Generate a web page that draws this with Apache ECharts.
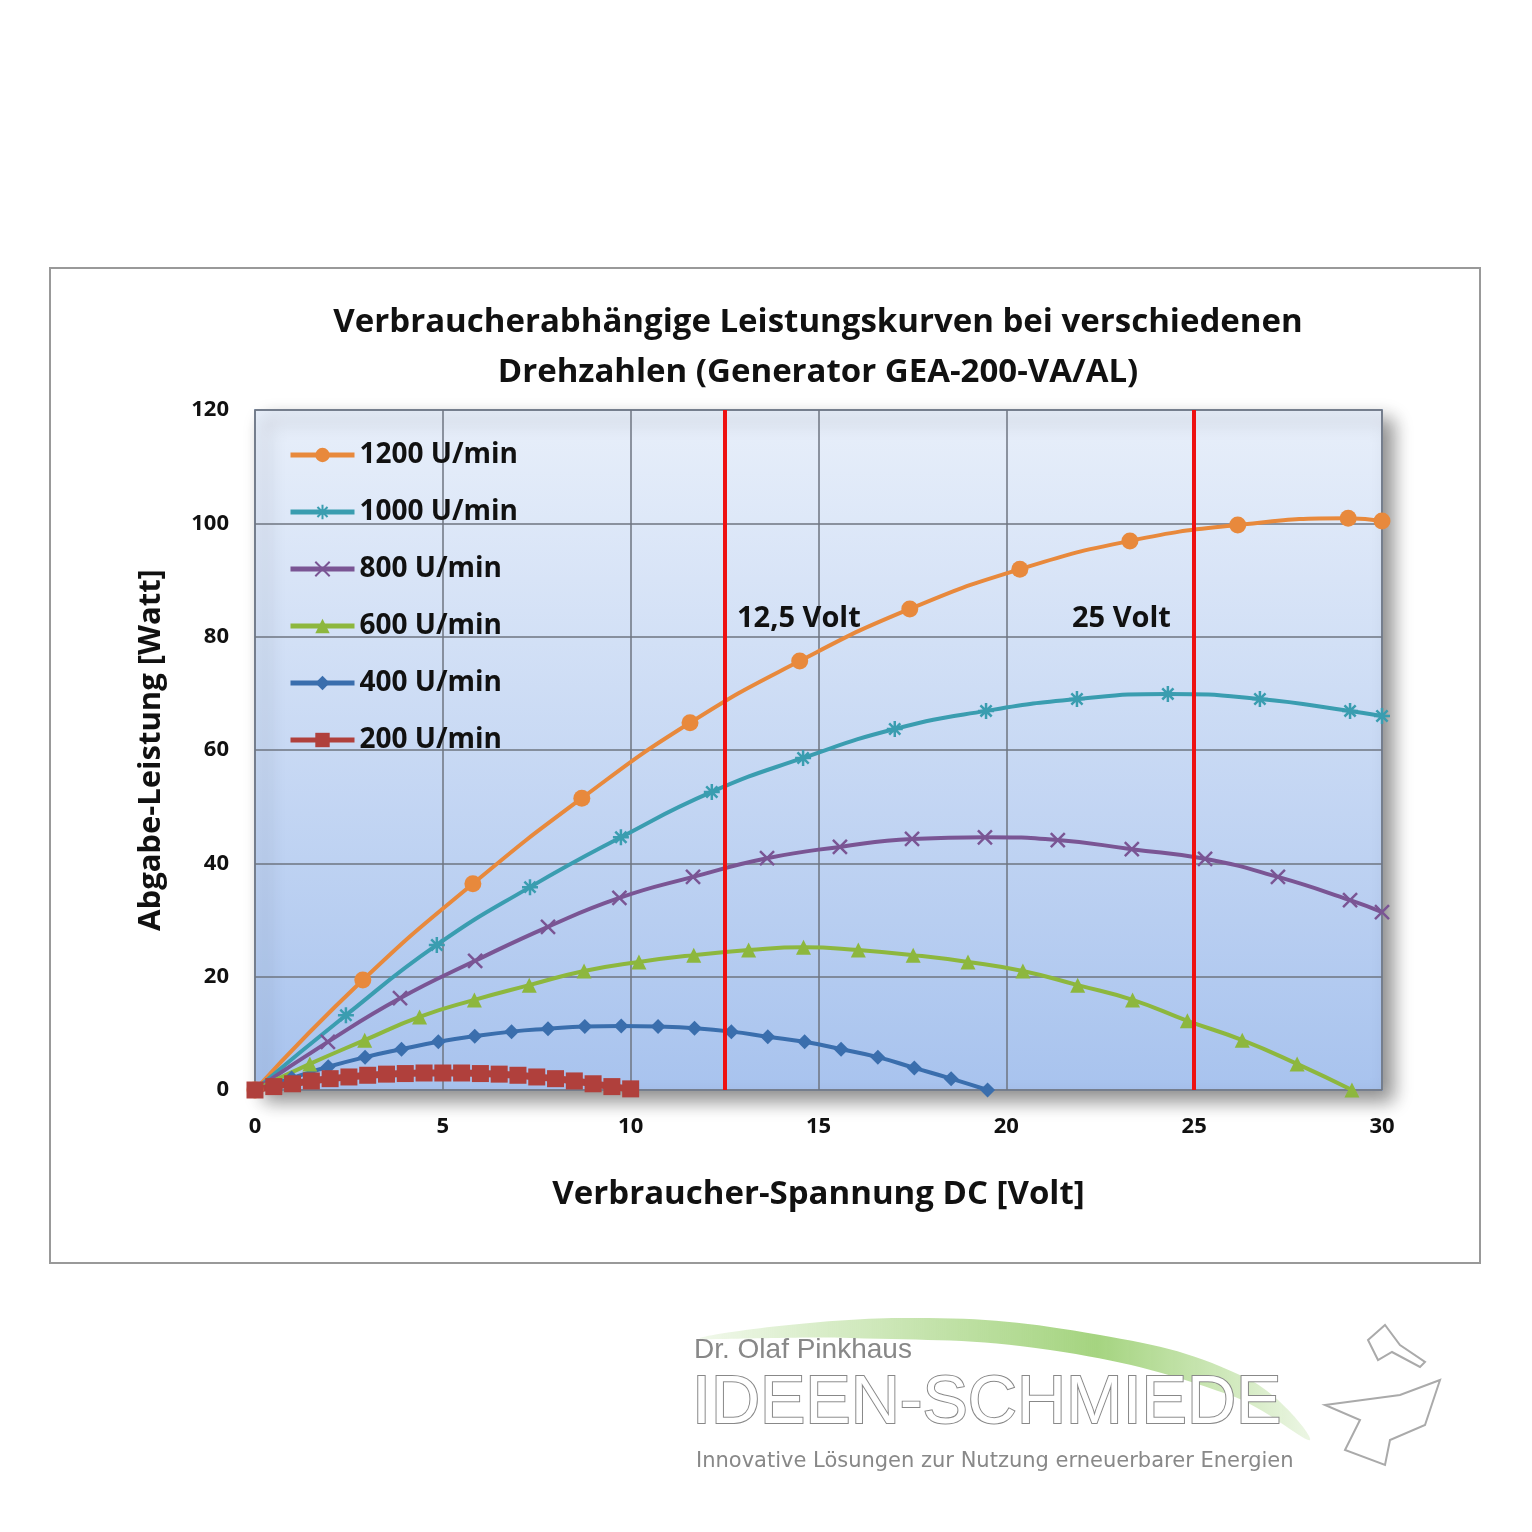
<!DOCTYPE html><html><head><meta charset="utf-8"><script src="https://cdn.jsdelivr.net/npm/echarts@6/dist/echarts.min.js"></script>
<style>html,body{margin:0;background:#fff}#c{width:1532px;height:1532px}</style></head><body><div id="c"></div><script>
const xTicks=[0,5,10,15,20,25,30];
const s1200x=[0,2.87,5.8,8.7,11.58,14.5,17.43,20.36,23.29,26.16,29.1,30];
const s1200y=[0,19.4,36.4,51.5,64.8,75.7,84.9,91.9,96.9,99.7,100.9,100.4];
const s1000x=[0,2.42,4.84,7.32,9.74,12.16,14.59,17.03,19.46,21.88,24.3,26.75,29.15,30];
const s1000y=[0,13.2,25.6,35.8,44.6,52.6,58.6,63.7,66.9,69,69.9,69,66.9,66];
const s800x=[0,1.94,3.86,5.86,7.8,9.7,11.66,13.63,15.57,17.49,19.43,21.37,23.34,25.29,27.23,29.15,30];
const s800y=[0,8.5,16.2,22.8,28.8,33.9,37.6,40.9,42.9,44.3,44.6,44.1,42.5,40.8,37.6,33.5,31.4];
const s600x=[0,1.46,2.92,4.38,5.84,7.3,8.76,10.22,11.68,13.14,14.6,16.06,17.52,18.98,20.44,21.9,23.36,24.82,26.28,27.74,29.2];
const s600y=[0,4.6,8.8,12.9,15.9,18.5,21.0,22.6,23.8,24.7,25.2,24.7,23.8,22.6,21.0,18.5,15.9,12.2,8.8,4.6,0];
const s400x=[0,0.975,1.95,2.93,3.9,4.88,5.85,6.83,7.8,8.78,9.75,10.73,11.7,12.68,13.65,14.63,15.6,16.58,17.55,18.53,19.5];
const s400y=[0,2.1,4.1,5.8,7.2,8.5,9.5,10.3,10.8,11.2,11.3,11.2,10.9,10.3,9.4,8.5,7.2,5.8,3.9,2.0,0];
const s200x=[0,0.5,1,1.5,2,2.5,3,3.5,4,4.5,5,5.5,6,6.5,7,7.5,8,8.5,9,9.5,10];
const s200y=[0,0.6,1.1,1.6,2.0,2.3,2.6,2.8,2.9,3.0,3.0,3.0,2.9,2.8,2.6,2.3,2.0,1.6,1.1,0.6,0.2];
const star='path://M10 0L10 20M0 10L20 10M3 3L17 17M17 3L3 17';
const cross='path://M0 0L20 20M20 0L0 20';
const z=(a,b)=>a.map((v,i)=>[v,b[i]]);
const F='"Open Sans",sans-serif';
function ser(name,xs,ys,color,symbol,size,extra){return Object.assign({name,type:'line',smooth:true,data:z(xs,ys),symbol,symbolSize:size,
 lineStyle:{color,width:4},itemStyle:{color,borderColor:color,borderWidth:symbol.startsWith('path')?2.5:0}},extra||{});}
const series=[
 ser('1200 U/min',s1200x,s1200y,'#e8893c','circle',17,{markLine:{silent:true,symbol:'none',lineStyle:{color:'#ee1111',width:4,type:'solid'},
   label:{show:false},data:[{xAxis:12.5},{xAxis:25}]}}),
 ser('1000 U/min',s1000x,s1000y,'#3a9db0',star,16),
 ser('800 U/min',s800x,s800y,'#7a5594',cross,14),
 ser('600 U/min',s600x,s600y,'#8db73e','triangle',15),
 ser('400 U/min',s400x,s400y,'#3a6ead','diamond',15),
 ser('200 U/min',s200x,s200y,'#b0403c','rect',17,{lineStyle:{color:'#b0403c',width:7}})
];
const ch=echarts.init(document.getElementById('c'));
ch.setOption({
 animation:false,
 title:{text:'Verbraucherabhängige Leistungskurven bei verschiedenen\nDrehzahlen (Generator GEA-200-VA/AL)',left:813,top:293,textAlign:'center',
  textStyle:{fontFamily:F,fontWeight:'bold',fontSize:33,lineHeight:50,color:'#111'}},
 grid:{left:255,right:150,top:410,bottom:442,show:true,borderColor:'#8a9bb5',borderWidth:2,shadowColor:'rgba(0,0,0,0.45)',shadowBlur:18,shadowOffsetX:10,shadowOffsetY:10,
  backgroundColor:new echarts.graphic.LinearGradient(0,0,0,1,[{offset:0,color:'#e8effa'},{offset:1,color:'#a8c3ee'}])},
 legend:{orient:'vertical',left:283,top:436,itemGap:29,itemWidth:64,itemHeight:18,lineStyle:{width:5},
  textStyle:{fontFamily:F,fontWeight:'bold',fontSize:28,color:'#111'}},
 xAxis:{type:'value',min:0,max:30,interval:5,name:'Verbraucher-Spannung DC [Volt]',nameLocation:'middle',nameGap:88,
  nameTextStyle:{fontFamily:F,fontWeight:'bold',fontSize:33,color:'#111'},
  axisLine:{show:false},axisTick:{show:false},axisLabel:{fontFamily:F,fontWeight:'bold',fontSize:22,color:'#111',margin:26},
  splitLine:{lineStyle:{color:'#6e7480',width:1.5}}},
 yAxis:{type:'value',min:0,max:120,interval:20,name:'Abgabe-Leistung [Watt]',nameLocation:'middle',nameGap:88,
  nameTextStyle:{fontFamily:F,fontWeight:'bold',fontSize:31,color:'#111'},
  axisLine:{show:false},axisTick:{show:false},axisLabel:{fontFamily:F,fontWeight:'bold',fontSize:22,color:'#111',margin:26},
  splitLine:{lineStyle:{color:'#6e7480',width:1.5}}},
 series,
 graphic:[
  {type:'rect',shape:{x:50,y:268,width:1430,height:995},style:{fill:'none',stroke:'#999',lineWidth:2},z:-10},
  {type:'text',x:737,y:604,style:{text:'12,5 Volt',font:'bold 29px "Open Sans",sans-serif',fill:'#111'},z:100},
  {type:'text',x:1072,y:604,style:{text:'25 Volt',font:'bold 29px "Open Sans",sans-serif',fill:'#111'},z:100},
  {type:'polygon',shape:{smooth:0.4,points:[[700,1338],[900,1318],[1100,1335],[1250,1380],[1310,1440],[1230,1395],[1050,1350],[850,1338]]},
   style:{fill:new echarts.graphic.LinearGradient(0,0,1,0,[{offset:0,color:'rgba(160,210,120,0.15)'},{offset:0.65,color:'#a5d480'},{offset:1,color:'rgba(160,210,120,0.2)'}])}},
  {type:'text',x:694,y:1336,style:{text:'Dr. Olaf Pinkhaus',font:'28px "Liberation Sans",sans-serif',fill:'#888'}},
  {type:'text',x:692,y:1370,style:{text:'IDEEN-SCHMIEDE',font:'68px "Liberation Sans",sans-serif',fill:'#fff',stroke:'#888',lineWidth:2}},
  {type:'text',x:696,y:1451,style:{text:'Innovative Lösungen zur Nutzung erneuerbarer Energien',font:'21px "DejaVu Sans",sans-serif',fill:'#888'}},
  {type:'polygon',shape:{points:[[1325,1405],[1400,1395],[1440,1380],[1425,1425],[1390,1440],[1385,1465],[1345,1450],[1360,1420]]},style:{fill:'none',stroke:'#aaa',lineWidth:2}},
  {type:'polygon',shape:{points:[[1368,1340],[1385,1325],[1400,1345],[1425,1362],[1420,1367],[1392,1352],[1378,1360]]},style:{fill:'none',stroke:'#aaa',lineWidth:2}}
 ]
});
</script></body></html>
